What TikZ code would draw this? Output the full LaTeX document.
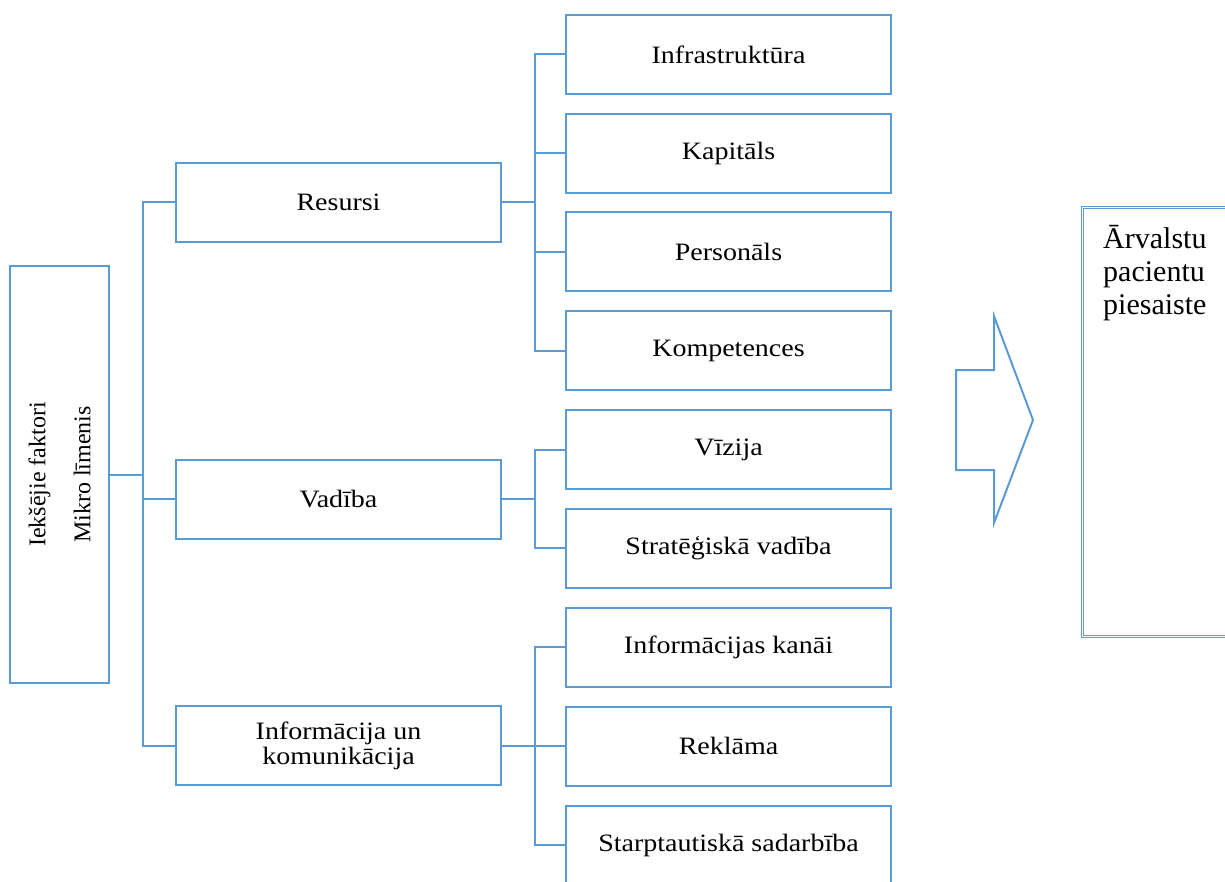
\documentclass[tikz,border=0pt]{standalone}
\usepackage{fontspec}
\setmainfont{Liberation Serif}
\newfontfamily\platsfont[FakeStretch=1.12]{Liberation Serif}
\usetikzlibrary{positioning}
\definecolor{zila}{HTML}{5B9BD5}
\tikzset{
  kaste/.style={rectangle, draw=zila, line width=2pt, fill=white,
    minimum width=325pt, minimum height=79pt, inner sep=2pt, align=center,
    font=\platsfont\fontsize{25}{25}\selectfont},
  savienot/.style={draw=zila, line width=2pt},
}
\begin{document}
\begin{tikzpicture}[x=1pt, y=-1pt]
    \useasboundingbox (0,0) rectangle (1225,882);
    % Kreisais bloks
    \node[kaste, minimum width=99pt, minimum height=417pt] (kreisais) at (59.5,474.5) {};
    \node[rotate=90, align=center, font=\fontsize{24}{45}\selectfont] (kreisaisteksts) at (kreisais.center)
      {Iekšējie faktori\\ Mikro līmenis};
    % Galvenie faktori
    \node[kaste] (resursi) at (338.5,202.5) {Resursi};
    \node[kaste] (vadiba) at (338.5,499) {Vadība};
    \node[kaste] (info) at (338.5,745.5) {Informācija un\\ komunikācija};
    % Apakšfaktori
    \foreach \y/\vards/\teksts in {54.5/infra/{Infrastruktūra}, 153.5/kapitals/{Kapitāls},
        252/personals/{Personāls}, 350.5/kompet/{Kompetences}, 449.5/vizija/{Vīzija},
        548/strat/{Stratēģiskā vadība}, 647/kanali/{Informācijas kanāi},
        746/reklama/{Reklāma}, 845/sadarbiba/{Starptautiskā sadarbība}} {
      \node[kaste] (\vards) at (728.5,\y) {\teksts};
    }
    % Savienojumi
    \coordinate (stumbrs) at (143,0);
    \coordinate (zars) at (535,0);
    \draw[savienot] (resursi.west) -- (resursi.west -| stumbrs) |- (info.west);
    \draw[savienot] (kreisais.east) -- (kreisais.east -| stumbrs);
    \draw[savienot] (vadiba.west) -- (vadiba.west -| stumbrs);

    \draw[savienot] (infra.west) -- (infra.west -| zars) |- (kompet.west);
    \draw[savienot] (kapitals.west) -- (kapitals.west -| zars);
    \draw[savienot] (personals.west) -- (personals.west -| zars);
    \draw[savienot] (resursi.east) -- (resursi.east -| zars);

    \draw[savienot] (vizija.west) -- (vizija.west -| zars) |- (strat.west);
    \draw[savienot] (vadiba.east) -- (vadiba.east -| zars);

    \draw[savienot] (kanali.west) -- (kanali.west -| zars) |- (sadarbiba.west);
    \draw[savienot] (reklama.west) -- (reklama.west -| zars);
    \draw[savienot] (info.east) -- (info.east -| zars);

    % Bulta
    \draw[savienot] (956,370) -- (994,370) -- (994,316) -- (1033,420) -- (994,523)
      -- (994,470) -- (956,470) -- cycle;

    % Rezultāts
    \node[draw=zila, double, line width=0.9pt, double distance=1pt,
          minimum width=190pt, minimum height=429pt, anchor=north west] (merkis) at (1082,207) {};
    \node[anchor=north west, align=left, inner sep=0pt, font=\fontsize{30}{33}\selectfont]
      (merkisteksts) at ([xshift=21pt, yshift=-18pt]merkis.north west) {Ārvalstu\\ pacientu\\ piesaiste};
\end{tikzpicture}
\end{document}
